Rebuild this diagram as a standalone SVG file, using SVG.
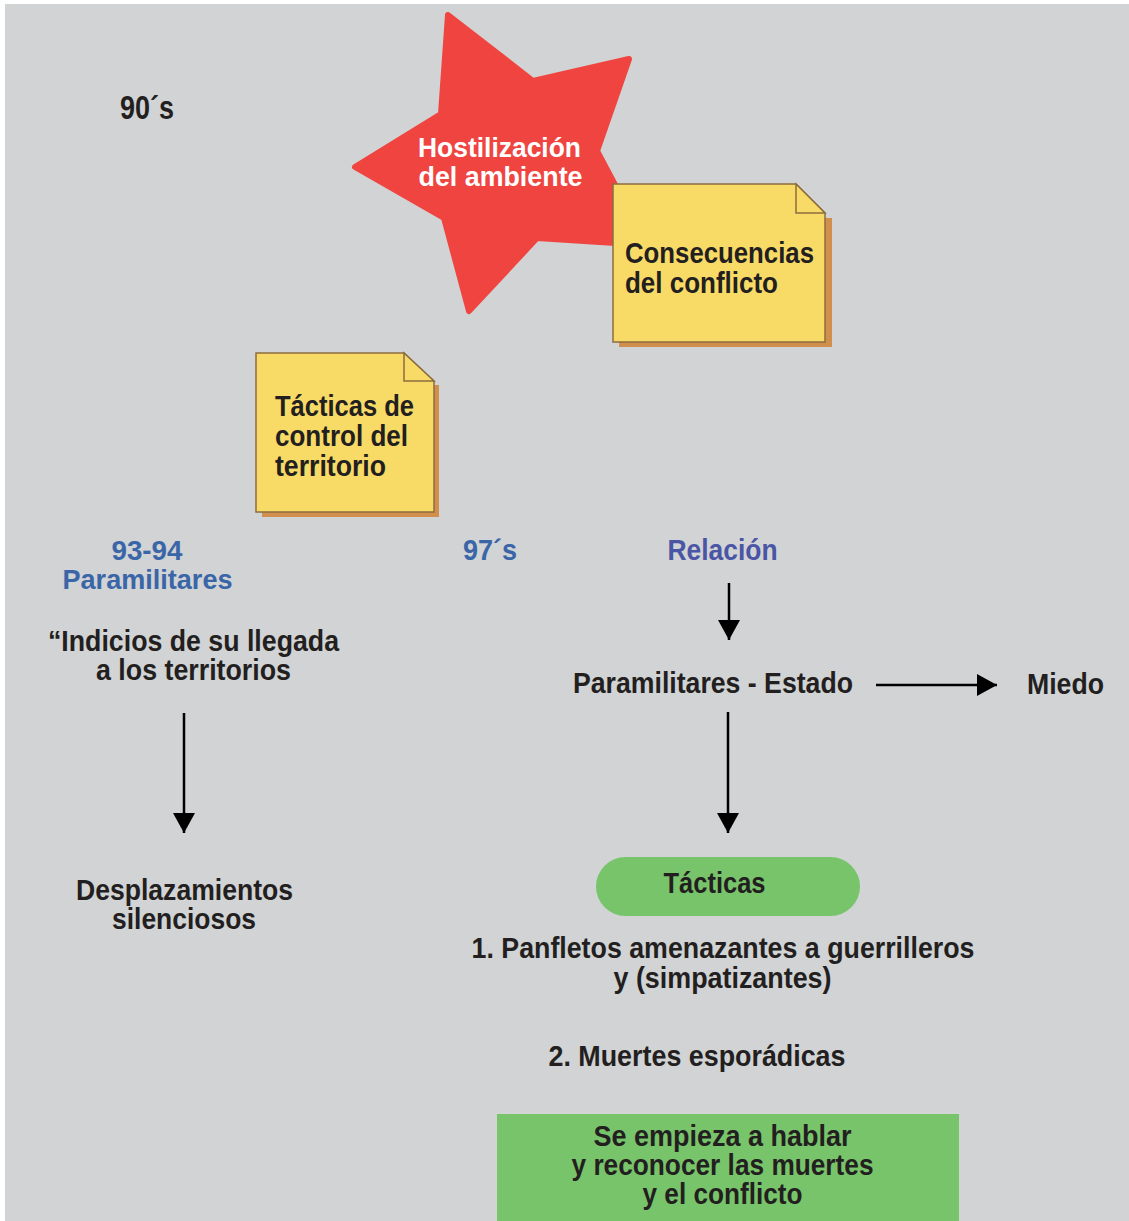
<svg xmlns="http://www.w3.org/2000/svg" width="1129" height="1221" viewBox="0 0 1129 1221">
  <style>
    text { font-family: "Liberation Sans", Arial, sans-serif; font-weight: bold; fill: #231f20; }
    .t { font-size: 29px; }
    .star { font-size: 28px; }
    .big { font-size: 30px; }
    .year { font-size: 33px; }
    .white { fill: #ffffff; }
    .blue { fill: #3a66a8; }
    .violet { fill: #4a55a5; }
    .mid { text-anchor: middle; }
    .note { fill: #f8da66; stroke: #8c6d3f; stroke-width: 1.5; }
    .shadow { fill: #d18f4d; }
    .conn { stroke: #000000; stroke-width: 2.5; fill: none; }
  </style>
  <defs>
    <marker id="head" markerUnits="userSpaceOnUse" markerWidth="22" markerHeight="22" viewBox="0 0 22 22" refX="20" refY="11" orient="auto">
      <path d="M0,0 L20,11 L0,22 Z" fill="#000000"/>
    </marker>
  </defs>

  <!-- backdrop -->
  <rect x="5" y="4" width="1124" height="1217" fill="#d1d3d4"/>

  <!-- star -->
  <g id="hostilizacion">
    <polygon points="448,15 533,81 629,59 597,151 647,245 537,238 469,311 444,218 355,167 441,114" fill="#ef443f" stroke="#ef443f" stroke-width="6" stroke-linejoin="round"/>
    <text class="star white mid" x="499.5" y="157" textLength="163" lengthAdjust="spacingAndGlyphs">Hostilización</text>
    <text class="star white mid" x="500.5" y="185.5" textLength="164" lengthAdjust="spacingAndGlyphs">del ambiente</text>
  </g>

  <!-- sticky note: consequences -->
  <g id="consecuencias">
    <rect class="shadow" x="619" y="218" width="213" height="129"/>
    <path class="note" d="M613,184 H796 L825,213 V342 H613 Z"/>
    <path class="note" d="M796,184 V213 H825 Z"/>
    <text class="big" x="625" y="263" textLength="189" lengthAdjust="spacingAndGlyphs">Consecuencias</text>
    <text class="big" x="625" y="293" textLength="153" lengthAdjust="spacingAndGlyphs">del conflicto</text>
  </g>

  <!-- sticky note: tactics -->
  <g id="tacticas-control">
    <rect class="shadow" x="262" y="385" width="177" height="132"/>
    <path class="note" d="M256,353 H404 L434,381 V512 H256 Z"/>
    <path class="note" d="M404,353 V381 H434 Z"/>
    <text class="big" x="275" y="416" textLength="139" lengthAdjust="spacingAndGlyphs">Tácticas de</text>
    <text class="big" x="275" y="446" textLength="133" lengthAdjust="spacingAndGlyphs">control del</text>
    <text class="big" x="275" y="476" textLength="111" lengthAdjust="spacingAndGlyphs">territorio</text>
  </g>

  <g id="decada-90">
    <text class="year" x="120" y="119" textLength="54" lengthAdjust="spacingAndGlyphs">90´s</text>
  </g>

  <g id="paramilitares-93-94">
    <text class="star blue mid" x="147" y="560" textLength="71" lengthAdjust="spacingAndGlyphs">93-94</text>
    <text class="star blue mid" x="147.5" y="588.5" textLength="170" lengthAdjust="spacingAndGlyphs">Paramilitares</text>
  </g>

  <g id="indicios">
    <text class="t mid" x="193.5" y="651" textLength="291" lengthAdjust="spacingAndGlyphs">“Indicios de su llegada</text>
    <text class="t mid" x="193.5" y="680" textLength="195" lengthAdjust="spacingAndGlyphs">a los territorios</text>
  </g>

  <g id="desplazamientos">
    <text class="t mid" x="184.5" y="900" textLength="217" lengthAdjust="spacingAndGlyphs">Desplazamientos</text>
    <text class="t mid" x="184" y="929" textLength="144" lengthAdjust="spacingAndGlyphs">silenciosos</text>
  </g>

  <g id="decada-97">
    <text class="t blue" x="463" y="560" textLength="54" lengthAdjust="spacingAndGlyphs">97´s</text>
  </g>

  <g id="relacion">
    <text class="t violet mid" x="722.5" y="560" textLength="110" lengthAdjust="spacingAndGlyphs">Relación</text>
  </g>

  <g id="paramilitares-estado">
    <text class="t" x="573" y="693" textLength="280" lengthAdjust="spacingAndGlyphs">Paramilitares - Estado</text>
  </g>

  <g id="miedo">
    <text class="t" x="1027" y="694" textLength="77" lengthAdjust="spacingAndGlyphs">Miedo</text>
  </g>

  <g id="tacticas">
    <rect x="596" y="857" width="264" height="59" rx="29.5" fill="#78c46a"/>
    <text class="t mid" x="714.5" y="893" textLength="102" lengthAdjust="spacingAndGlyphs">Tácticas</text>
  </g>

  <g id="panfletos">
    <text class="t mid" x="723" y="958" textLength="503" lengthAdjust="spacingAndGlyphs">1. Panfletos amenazantes a guerrilleros</text>
    <text class="t mid" x="722.5" y="988" textLength="218" lengthAdjust="spacingAndGlyphs">y (simpatizantes)</text>
  </g>

  <g id="muertes">
    <text class="t mid" x="697" y="1066" textLength="297" lengthAdjust="spacingAndGlyphs">2. Muertes esporádicas</text>
  </g>

  <g id="reconocimiento">
    <rect x="497" y="1114" width="462" height="107" fill="#78c46a"/>
    <text class="t mid" x="722.5" y="1146" textLength="258" lengthAdjust="spacingAndGlyphs">Se empieza a hablar</text>
    <text class="t mid" x="722.5" y="1175" textLength="302" lengthAdjust="spacingAndGlyphs">y reconocer las muertes</text>
    <text class="t mid" x="722.5" y="1204" textLength="160" lengthAdjust="spacingAndGlyphs">y el conflicto</text>
  </g>

  <!-- connectors -->
  <g id="connectors">
    <line class="conn" x1="729" y1="583" x2="729" y2="640" marker-end="url(#head)"/>
    <line class="conn" x1="728" y1="712" x2="728" y2="833" marker-end="url(#head)"/>
    <line class="conn" x1="184" y1="713" x2="184" y2="833" marker-end="url(#head)"/>
    <line class="conn" x1="876" y1="685" x2="997" y2="685" marker-end="url(#head)"/>
  </g>
</svg>
